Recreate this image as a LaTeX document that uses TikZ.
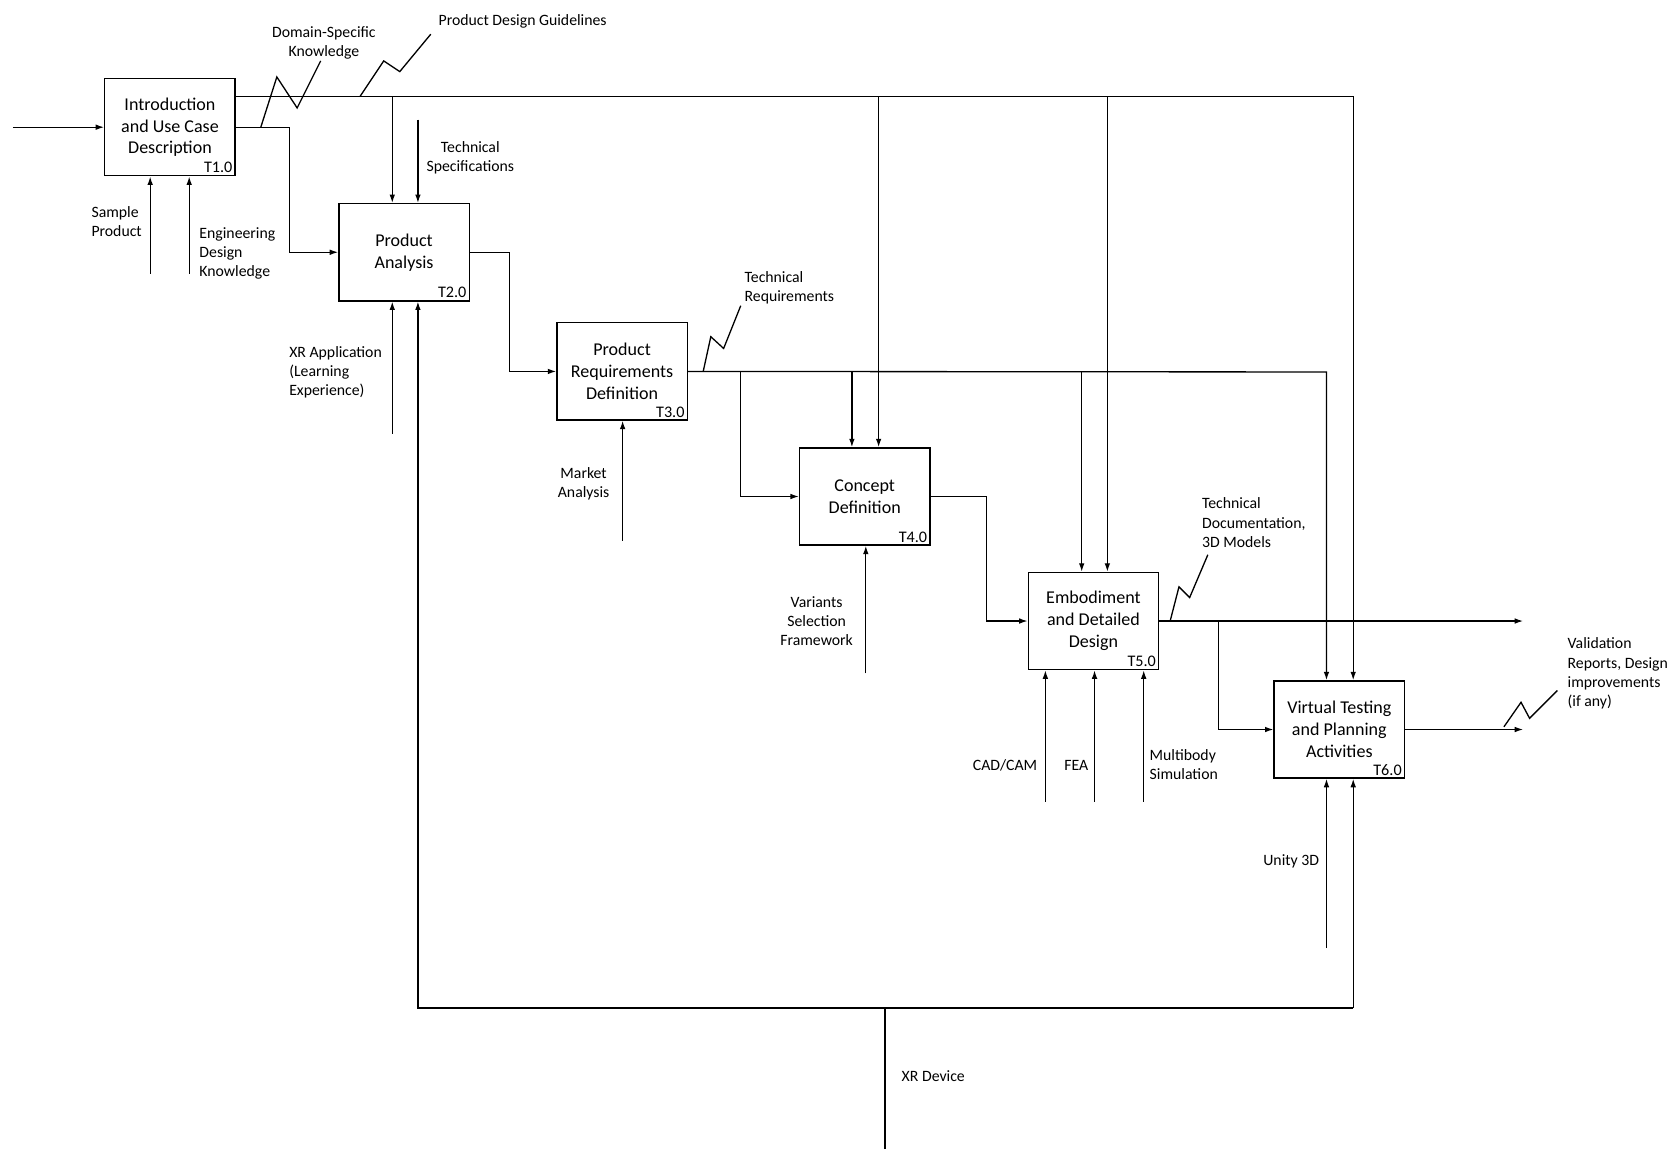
\documentclass[tikz,border=0pt]{standalone}
\usepackage{fontspec}
\setmainfont{Carlito}
\usepackage{tikz}
\usetikzlibrary{arrows.meta}
\tikzset{
	actbox/.style={draw, minimum width=2.44cm, minimum height=1.82cm, align=center, inner sep=0pt, font=\fontsize{9.6}{11.7}\selectfont},
	actid/.style={anchor=south east, inner sep=1.5pt, font=\fontsize{8.6}{10}\selectfont},
	lbl/.style={inner sep=0pt, align=center, font=\fontsize{8.4}{10.2}\selectfont},
	arr/.style={-{Latex[length=4.5pt,width=3pt]}},
}
\newcommand{\activity}[4]{%
	\node[actbox] (#1) at (#2) {#3};
	\node[actid] (#1id) at (#1.south east) {#4};
}

\begin{document}
\begin{tikzpicture}[x=0.02cm, y=-0.02cm, line width=0.7pt]

	\useasboundingbox (0,0) rectangle (1568,1075);

	\activity{t1}{159,119}{Introduction\\and Use Case\\Description}{T1.0}
	\activity{t2}{378,236}{Product\\Analysis}{T2.0}
	\activity{t3}{582,347.5}{Product\\Requirements\\Definition}{T3.0}
	\activity{t4}{809,464.5}{Concept\\Definition}{T4.0}
	\activity{t5}{1023,581}{Embodiment\\and Detailed\\Design}{T5.0}
	\activity{t6}{1253,682.5}{Virtual Testing\\and Planning\\Activities}{T6.0}

	% branch points and free ends
	\coordinate (in0) at (12,119);
	\coordinate (top) at (1266,90);
	\coordinate (top2) at (367,90);
	\coordinate (top4) at (822,90);
	\coordinate (top5) at (1036,90);
	\coordinate (tspec) at (391,112);
	\coordinate (smpl) at (140.5,256);
	\coordinate (engk) at (177,256);
	\coordinate (xrapp) at (367,406);
	\coordinate (req) at (1241,348);
	\coordinate (req4a) at (693,348);
	\coordinate (req4b) at (797,348);
	\coordinate (req5) at (1012,348);
	\coordinate (mkt) at (582.5,506);
	\coordinate (var) at (810,630);
	\coordinate (out5) at (1425,581);
	\coordinate (doc6) at (1140,581);
	\coordinate (cad) at (978,750);
	\coordinate (fea) at (1024,750);
	\coordinate (mbs) at (1070,750);
	\coordinate (out6) at (1425,682.5);
	\coordinate (unity) at (1241,887);
	\coordinate (loopL) at (391,943);
	\coordinate (loopR) at (1266,943);
	\coordinate (xrdev) at (828,943);
	\coordinate (xrend) at (828,1075);

	% T1
	\draw[arr] (in0) -- (t1.west);
	\draw[arr] (smpl) -- (smpl |- t1.south);
	\draw[arr] (engk) -- (engk |- t1.south);
	\draw[arr] (t1.east) -- ++(50,0) |- (t2.west);
	\draw[arr] (t1.east |- top) -- (top) -- (top |- t6.north);
	\draw[arr] (top2) -- (top2 |- t2.north);
	\draw[arr] (top4) -- (top4 |- t4.north);
	\draw[arr] (top5) -- (top5 |- t5.north);

	% T2
	\draw[arr] (tspec) -- (tspec |- t2.north);
	\draw[arr] (xrapp) -- (xrapp |- t2.south);
	\draw[arr] (t2.east) -- ++(37,0) |- (t3.west);

	% T3
	\draw[arr] (mkt) -- (mkt |- t3.south);
	\draw[arr] (t3.east) -- (req) -- (req |- t6.north);
	\draw[arr] (req4a) |- (t4.west);
	\draw[arr] (req4b) -- (req4b |- t4.north);
	\draw[arr] (req5) -- (req5 |- t5.north);

	% T4
	\draw[arr] (var) -- (var |- t4.south);
	\draw[arr] (t4.east) -- ++(52,0) |- (t5.west);

	% T5
	\draw[arr] (t5.east) -- (out5);
	\draw[arr] (doc6) |- (t6.west);
	\draw[arr] (cad) -- (cad |- t5.south);
	\draw[arr] (fea) -- (fea |- t5.south);
	\draw[arr] (mbs) -- (mbs |- t5.south);

	% T6
	\draw[arr] (t6.east) -- (out6);
	\draw[arr] (unity) -- (unity |- t6.south);

	% XR device loop
	\draw (xrend) -- (xrdev);
	\draw[arr] (loopR) -- (loopL) -- (loopL |- t2.south);
	\draw[arr] (loopR) -- (loopR |- t6.south);

	% squiggles
	\draw (244,119) -- (259,72) -- (278,101) -- (300,57);
	\draw (337,90) -- (359,57) -- (374,67) -- (403,32);
	\draw (658,347) -- (665,315) -- (677,326) -- (693,286);
	\draw (1095,580) -- (1103,549) -- (1113,559) -- (1130,519);
	\draw (1407,680) -- (1423,657) -- (1431,672) -- (1457,646);

	% labels
	\node[lbl] (ldsk) at (303,40) {Domain-Specific\\Knowledge};
	\node[lbl] (lpdg) at (489,20) {Product Design Guidelines};
	\node[lbl] (lts) at (440,148) {Technical\\Specifications};
	\node[lbl, anchor=west, align=left] (lsp) at (85,207) {Sample\\Product};
	\node[lbl, anchor=west, align=left] (ledk) at (186,237) {Engineering\\Design\\Knowledge};
	\node[lbl, anchor=west, align=left] (lxra) at (270,348) {XR Application\\(Learning\\Experience)};
	\node[lbl, anchor=west, align=left] (ltr) at (696,269) {Technical\\Requirements};
	\node[lbl] (lma) at (546,453) {Market\\Analysis};
	\node[lbl] (lvsf) at (764,581) {Variants\\Selection\\Framework};
	\node[lbl, anchor=west, align=left] (ltd) at (1124,489) {Technical\\Documentation,\\3D Models};
	\node[lbl, anchor=east] (lcad) at (971,716) {CAD/CAM};
	\node[lbl] (lfea) at (1007,716) {FEA};
	\node[lbl, anchor=west, align=left] (lmbs) at (1075,715) {Multibody\\Simulation};
	\node[lbl, anchor=west, align=left] (lval) at (1466,630) {Validation\\Reports, Design\\improvements\\(if any)};
	\node[lbl] (lu3d) at (1208,806) {Unity 3D};
	\node[lbl, anchor=west] (lxrd) at (843,1007) {XR Device};

\end{tikzpicture}
\end{document}
